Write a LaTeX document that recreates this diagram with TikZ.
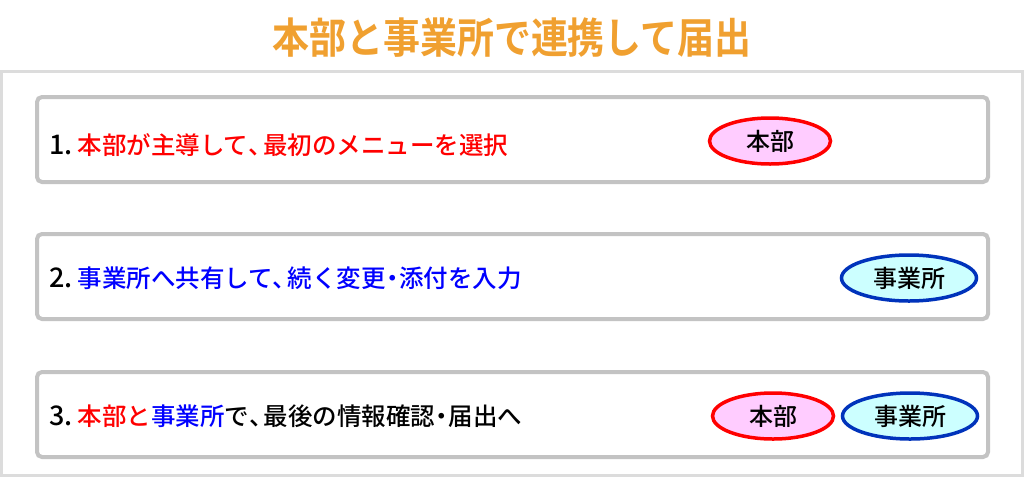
\documentclass[tikz,border=0pt]{standalone}
\usepackage{fontspec}
\setmainfont{Noto Sans CJK JP Medium}
\newfontfamily\titlefont{Noto Sans CJK JP Bold}
\usetikzlibrary{shapes.geometric}
\definecolor{ttl}{HTML}{F0A030}
\definecolor{frame}{HTML}{DCDCDC}
\definecolor{boxline}{HTML}{C3C3C3}
\definecolor{hqfill}{HTML}{FFCCFF}
\definecolor{offill}{HTML}{CCFFFF}
\definecolor{ofline}{HTML}{0033BB}
\definecolor{tred}{HTML}{FF0000}
\definecolor{tblue}{HTML}{0000FF}
\newcommand{\tten}{\makebox[0.6em][l]{、}}
\newcommand{\nakag}{\makebox[0.55em]{・}}
\newcommand{\num}[1]{{\fontsize{27}{28}\selectfont #1}\hspace{0.2em}}
\tikzset{
  stepbox/.style={draw=boxline, line width=4pt, rounded corners=5pt, fill=white},
  rowtext/.style={anchor=west, inner sep=0pt, font=\fontsize{24.5}{27}\selectfont},
  hq/.style={ellipse, draw=tred, fill=hqfill, line width=3.5pt, minimum width=121pt, minimum height=46pt, inner sep=0pt, font=\fontsize{24}{26}\selectfont},
  of/.style={ellipse, draw=ofline, fill=offill, line width=3.5pt, minimum width=135pt, minimum height=46pt, inner sep=0pt, font=\fontsize{24}{26}\selectfont},
}
\begin{document}
\begin{tikzpicture}[x=1pt,y=-1pt]
\useasboundingbox (0,0) rectangle (1024,477);
\fill[white] (0,0) rectangle (1024,477);
\draw[frame, line width=3pt] (1.5,71.5) rectangle (1022.5,475.5);
\node[inner sep=0pt, text=ttl, font=\titlefont\fontsize{42}{44}\selectfont] (title) at (512,38) {\scalebox{0.88}[1]{本部と事業所で連携して届出}};
% boxes
\draw[stepbox] (37,97) rectangle (988,182) coordinate (b1);
\draw[stepbox] (37,234) rectangle (988,319) coordinate (b2);
\draw[stepbox] (37,372) rectangle (988,457) coordinate (b3);
% texts
\node[rowtext] (t1) at (49,145) {\num{1.}\textcolor{tred}{本部が主導して\tten 最初のメニューを選択}};
\node[rowtext] (t2) at (49,278) {\num{2.}\textcolor{tblue}{事業所へ共有して\tten 続く変更\nakag 添付を入力}};
\node[rowtext] (t3) at (49,416) {\num{3.}\textcolor{tred}{本部と}\textcolor{tblue}{事業所}で\tten 最後の情報確認\nakag 届出へ};
% ellipses
\node[hq] (e1) at (770,141) {本部};
\node[of] (e2) at (909,278) {事業所};
\node[hq] (e3) at (773,416) {本部};
\node[of] (e4) at (910,416) {事業所};
\end{tikzpicture}
\end{document}
